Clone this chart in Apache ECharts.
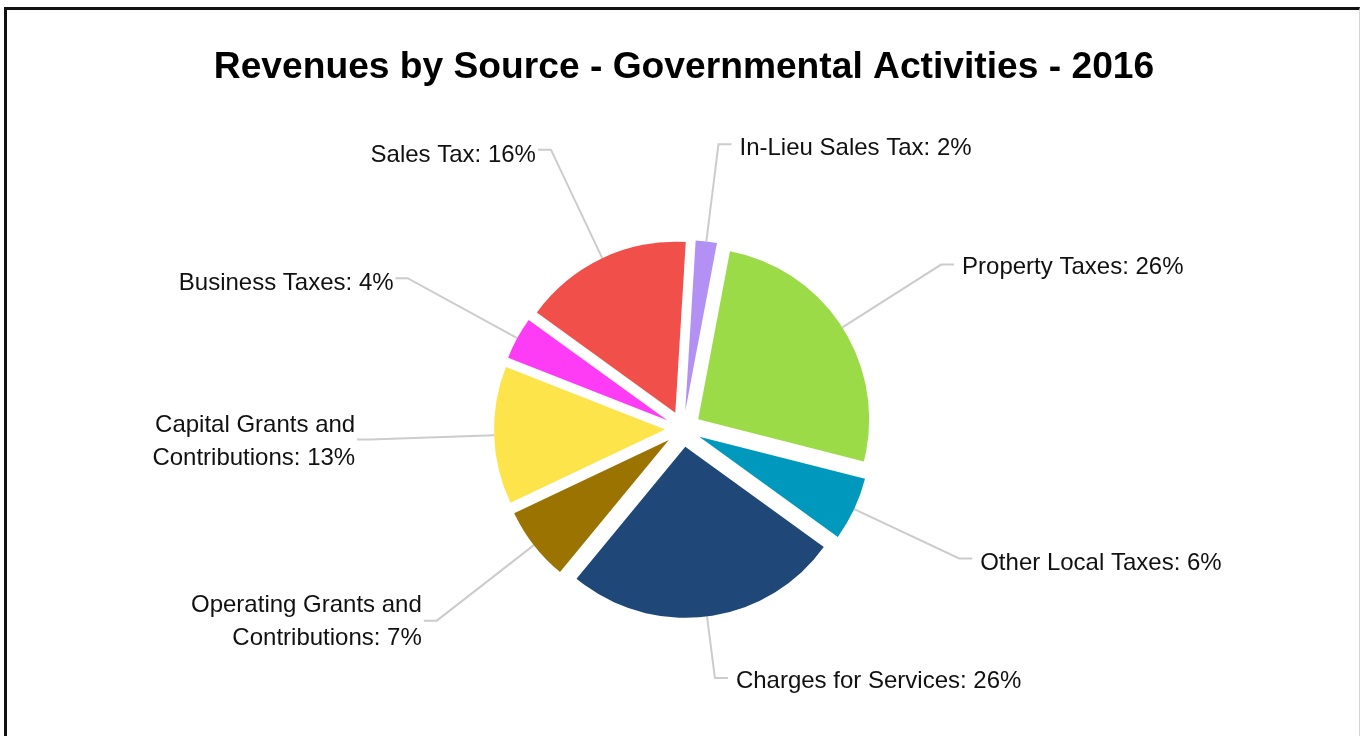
<!DOCTYPE html>
<html>
<head>
<meta charset="utf-8">
<script src="https://cdn.jsdelivr.net/npm/echarts@6/dist/echarts.min.js"></script>
<style>
html, body { margin: 0; padding: 0; background: #fff; overflow: hidden; width: 1360px; height: 736px; }
#chart { position: absolute; left: 0; top: 0; width: 1368px; height: 736px; }
#frame { position: absolute; left: 4px; top: 7px; width: 1352px; height: 760px;
  border-left: 3px solid #111; border-top: 3px solid #111; border-right: 1px solid #d4d4d4;
  pointer-events: none; }
</style>
</head>
<body>
<div id="chart"></div>
<div id="frame"></div>
<script>
const titleText = 'Revenues by Source - Governmental Activities - 2016';
const categories = [
  'In-Lieu Sales Tax',
  'Property Taxes',
  'Other Local Taxes',
  'Charges for Services',
  'Operating Grants and\nContributions',
  'Capital Grants and\nContributions',
  'Business Taxes',
  'Sales Tax'
];
const shares = [2, 26, 6, 26, 7, 13, 4, 16];
const colors = ['#b391f4', '#9cdb48', '#0098bd', '#1f4777', '#9b7300', '#fee44b', '#fe3cf6', '#f04f4a'];
const lineLengths = [98, 117, 116, 62, 123, 124, 125, 120];
const lineLengths2 = [13, 13, 13, 13, 13, 13, 12, 13];
const labelGaps = [8, 8, 8, 8, 2, 2, 2, 2];
const labelPadTop = [0, 0, 0, 0, 0, 30, 0, 0];
const labelShiftY = [4, 3, 5, 3, 1, 2, 5, 6];

const fontFamily = '"Liberation Sans", Arial, Helvetica, sans-serif';

const pieData = categories.map((name, i) => ({
  name: name,
  value: shares[i],
  selected: true,
  itemStyle: { color: colors[i] },
  labelLine: { length: lineLengths[i], length2: lineLengths2[i] },
  label: { distanceToLabelLine: labelGaps[i], padding: [labelPadTop[i], 0, 0, 0] }
}));

const chart = echarts.init(document.getElementById('chart'), null, { renderer: 'canvas' });
chart.setOption({
  animation: false,
  backgroundColor: 'transparent',
  title: {
    text: titleText,
    left: 'center',
    top: 44,
    textStyle: { fontSize: 37.2, fontWeight: 'bold', color: '#000', fontFamily: fontFamily }
  },
  series: [{
    type: 'pie',
    center: [683, 429],
    radius: 171,
    startAngle: 86.5,
    clockwise: true,
    selectedMode: 'multiple',
    selectedOffset: 18,
    avoidLabelOverlap: true,
    emphasis: { disabled: true },
    select: { itemStyle: { borderWidth: 0 } },
    itemStyle: { borderWidth: 0 },
    label: {
      show: true,
      position: 'outside',
      formatter: p => p.name + ': ' + p.value + '%',
      fontSize: 24,
      lineHeight: 33,
      color: '#111',
      fontFamily: fontFamily
    },
    labelLayout: p => ({ dy: labelShiftY[p.dataIndex] }),
    labelLine: {
      show: true,
      smooth: false,
      lineStyle: { color: '#cccccc', width: 2 }
    },
    data: pieData
  }]
});
</script>
</body>
</html>
